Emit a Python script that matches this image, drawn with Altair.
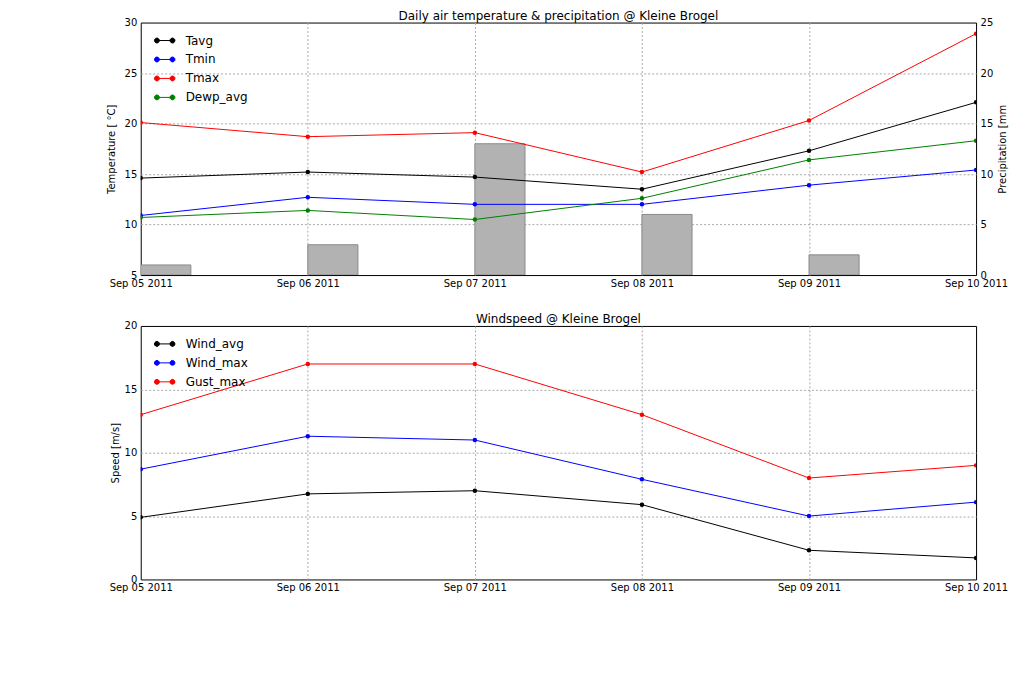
import math
import altair as alt
import pandas as pd

FONT = "DejaVu Sans"

# ---- data ----
dates = ["2011-09-05", "2011-09-06", "2011-09-07", "2011-09-08", "2011-09-09", "2011-09-10"]

tavg = [14.6, 15.2, 14.7, 13.5, 17.3, 22.1]
tmin = [10.9, 12.7, 12.0, 12.0, 13.9, 15.4]
tmax = [20.1, 18.7, 19.1, 15.2, 20.3, 28.9]
dewp_avg = [10.7, 11.4, 10.5, 12.6, 16.4, 18.3]
precip = [1, 3, 13, 6, 2, 0]

wind_avg = [4.9, 6.75, 7.0, 5.9, 2.3, 1.7]
wind_max = [8.7, 11.3, 11.0, 7.9, 5.0, 6.1]
gust_max = [13, 17, 17, 13, 8, 9]

temp_names = ["Tavg", "Tmin", "Tmax", "Dewp_avg"]
temp_colors = ["black", "blue", "red", "green"]
wind_names = ["Wind_avg", "Wind_max", "Gust_max"]
wind_colors = ["black", "blue", "red"]


def long_frame(names, series):
    rows = []
    for name, vals in zip(names, series):
        for d, v in zip(dates, vals):
            rows.append({"date": d, "series": name, "value": v})
    return pd.DataFrame(rows)


temp_df = long_frame(temp_names, [tavg, tmin, tmax, dewp_avg])
wind_df = long_frame(wind_names, [wind_avg, wind_max, gust_max])
precip_df = pd.DataFrame({"date": dates, "precip": precip})


# legend symbol: a short line with a dot at each end (matplotlib style)
def ring(cx, r, n=12):
    pts = [(cx + r * math.cos(2 * math.pi * k / n), r * math.sin(2 * math.pi * k / n)) for k in range(n)]
    return "M" + "L".join(f"{x:.3f},{y:.3f}" for x, y in pts) + "Z"


LEGEND_SYMBOL = "M-0.82,0L0.82,0" + "".join(
    ring(c, r) for c in (-0.82, 0.82) for r in (0.26, 0.17, 0.08)
)


def legend():
    return alt.Legend(
        title=None, orient="none", legendX=14, legendY=8, padding=0,
        symbolType=LEGEND_SYMBOL, symbolSize=361, symbolStrokeWidth=1,
        symbolOpacity=1, labelFont=FONT, labelFontSize=12, labelColor="black",
        labelOffset=11, rowPadding=3,
    )


# hide the grid lines that fall on the frame, so the black box stays solid
edge_grid = {"condition": {"test": "datum.index == 0 || datum.index == 1", "value": 0}, "value": 1}

day0 = alt.DateTime(year=2011, month=9, date=5, utc=True)
day5 = alt.DateTime(year=2011, month=9, date=10, utc=True)

x_enc = alt.X(
    "date:T",
    scale=alt.Scale(type="utc", domain=[day0, day5], nice=False),
    axis=alt.Axis(
        title=None, format="%b %d %Y", labelFlush=False,
        tickCount={"interval": "day", "step": 1}, grid=True, labelPadding=3,
        gridOpacity=edge_grid,
    ),
)

W, H = 837, 253

# ---- top: temperature + precipitation ----
bars = alt.Chart(precip_df).mark_bar(
    fill="#b2b2b2", stroke="#8a8a8a", strokeWidth=1, clip=True
).transform_calculate(
    end="time(datum.date) + 0.3 * 86400000"
).encode(
    x=x_enc,
    x2="end:T",
    y=alt.Y(
        "precip:Q",
        scale=alt.Scale(domain=[0, 25], nice=False),
        axis=alt.Axis(orient="right", values=[0, 5, 10, 15, 20, 25], grid=False,
                      labelPadding=4, title="Precipitation [mm", titleAngle=270,
                      titleBaseline="top", titlePadding=5),
    ),
    y2=alt.datum(0),
)

temp_color = alt.Color(
    "series:N",
    scale=alt.Scale(domain=temp_names, range=temp_colors),
    legend=legend(),
)
temp_lines = alt.Chart(temp_df).mark_line(strokeWidth=1, clip=True).encode(
    x=x_enc,
    y=alt.Y(
        "value:Q",
        scale=alt.Scale(domain=[5, 30], nice=False),
        axis=alt.Axis(orient="left", values=[5, 10, 15, 20, 25, 30], grid=True,
                      gridOpacity=edge_grid, title="Temperature [ °C]", titlePadding=8),
    ),
    color=temp_color,
)
temp_points = temp_lines.mark_point(filled=True, size=20, opacity=1, clip=True)

title_style = dict(font=FONT, fontSize=12, fontWeight="normal", color="black",
                   offset=-5, frame="group")

top = alt.layer(bars, alt.layer(temp_lines, temp_points)).resolve_scale(
    y="independent"
).properties(
    width=W, height=H,
    title=alt.TitleParams("Daily air temperature & precipitation @ Kleine Brogel", **title_style),
)

# ---- bottom: wind speed ----
wind_lines = alt.Chart(wind_df).mark_line(strokeWidth=1, clip=True).encode(
    x=x_enc,
    y=alt.Y(
        "value:Q",
        scale=alt.Scale(domain=[0, 20], nice=False),
        axis=alt.Axis(values=[0, 5, 10, 15, 20], grid=True, gridOpacity=edge_grid,
                      title="Speed [m/s]", titlePadding=4),
    ),
    color=alt.Color(
        "series:N",
        scale=alt.Scale(domain=wind_names, range=wind_colors),
        legend=legend(),
    ),
)
wind_points = wind_lines.mark_point(filled=True, size=20, opacity=1, clip=True)

bottom = alt.layer(wind_lines, wind_points).properties(
    width=W, height=254,
    title=alt.TitleParams("Windspeed @ Kleine Brogel", **title_style),
)

chart = alt.vconcat(top, bottom, spacing=51, bounds="flush").resolve_scale(
    color="independent"
).properties(
    padding={"left": 97, "top": 0, "right": 0, "bottom": 0}
).configure_view(
    stroke="black", strokeWidth=1
).configure_axis(
    labelFont=FONT, labelFontSize=10, labelColor="black",
    titleFont=FONT, titleFontSize=10, titleFontWeight="normal", titleColor="black",
    domain=False, ticks=False, labelPadding=4,
    gridColor="#a8a8a8", gridDash=[2, 2], gridWidth=1,
)

chart.save("out.html", embed_options={"renderer": "svg", "actions": False})
